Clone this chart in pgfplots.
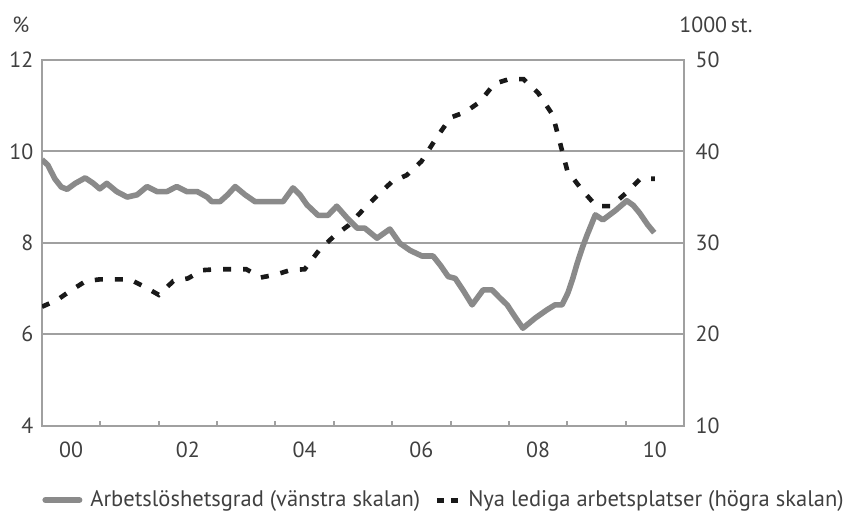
\documentclass[border=0pt]{standalone}
\usepackage{pgfplots}
\pgfplotsset{compat=1.18}
\usepackage{fontspec}
\setmainfont{PT Sans}
\definecolor{ugray}{RGB}{138,138,138}
\definecolor{agray}{RGB}{160,160,160}
\definecolor{tgray}{RGB}{64,64,64}
\definecolor{vblack}{RGB}{25,25,25}

\pgfplotstableread{
x y
2000.00 9.82
2000.10 9.70
2000.22 9.40
2000.33 9.22
2000.43 9.17
2000.57 9.30
2000.74 9.42
2000.88 9.30
2000.99 9.18
2001.11 9.30
2001.28 9.12
2001.46 9.00
2001.63 9.05
2001.80 9.23
2001.97 9.12
2002.14 9.12
2002.31 9.23
2002.48 9.12
2002.66 9.12
2002.83 9.00
2002.91 8.90
2003.05 8.90
2003.18 9.05
2003.31 9.23
2003.48 9.05
2003.65 8.90
2003.90 8.90
2004.13 8.90
2004.30 9.20
2004.42 9.05
2004.54 8.83
2004.73 8.60
2004.90 8.60
2005.05 8.80
2005.23 8.54
2005.40 8.32
2005.53 8.32
2005.74 8.10
2005.96 8.30
2006.13 7.99
2006.31 7.83
2006.51 7.71
2006.70 7.71
2006.83 7.50
2006.96 7.26
2007.08 7.22
2007.22 6.95
2007.37 6.64
2007.56 6.97
2007.71 6.97
2007.84 6.80
2007.97 6.64
2008.12 6.35
2008.24 6.13
2008.45 6.35
2008.65 6.53
2008.79 6.64
2008.91 6.64
2009.01 6.90
2009.09 7.20
2009.17 7.55
2009.26 7.90
2009.34 8.17
2009.48 8.61
2009.61 8.50
2009.82 8.70
2010.02 8.92
2010.13 8.82
2010.24 8.65
2010.38 8.39
2010.49 8.22
}\unemp

\pgfplotstableread{
x y
2000.00 23.0
2000.25 23.7
2000.50 24.8
2000.75 25.8
2001.00 26.0
2001.25 26.0
2001.50 26.0
2001.75 25.2
2002.00 24.3
2002.25 25.8
2002.50 26.1
2002.75 27.0
2003.00 27.1
2003.25 27.1
2003.50 27.1
2003.75 26.2
2004.00 26.5
2004.25 27.0
2004.50 27.1
2004.75 29.2
2005.00 30.7
2005.25 31.9
2005.50 33.6
2005.75 35.2
2006.00 36.7
2006.25 37.4
2006.50 38.9
2006.75 41.4
2007.00 43.7
2007.25 44.3
2007.50 45.4
2007.75 47.4
2008.00 47.9
2008.25 47.9
2008.50 46.4
2008.75 44.0
2009.00 37.9
2009.25 35.8
2009.50 34.0
2009.75 34.0
2010.00 35.4
2010.25 37.0
2010.50 37.0
}\vac

\begin{document}
\begin{tikzpicture}[x=1bp,y=1bp]
\useasboundingbox (-21,-43.25) rectangle (405.5,212.75);
\pgfplotsset{
  common/.style={
    at={(0,0)}, anchor=south west,
    width=321bp, height=182.75bp, scale only axis,
    xmin=2000, xmax=2011,
    axis line style={agray, line width=1bp},
    major tick length=0pt,
    tick style={agray, line width=1bp},
    ticklabel style={font=\fontsize{11}{13}\selectfont, text=tgray},
    /pgf/number format/assume math mode=true,
  }
}
\begin{axis}[
  common,
  ymin=4, ymax=12, ytick={4,6,...,12},
  ymajorgrids, grid style={agray, line width=1bp},
  xtick={2000.5,2002.5,...,2010.5}, xticklabels={00,02,04,06,08,10},
  minor xtick={2001,...,2010}, minor tick length=2.5bp,
  tick align=inside, xtick pos=bottom, ytick pos=left,
  xticklabel style={yshift=-4.5bp},
  yticklabel style={xshift=-0.8bp},
  legend columns=2,
  legend style={at={(axis description cs:0,0)}, anchor=west, yshift=-37.25bp,
    draw=none, fill=none, inner sep=0pt, font=\fontsize{11.3}{13}\selectfont,
    text=tgray,
    /tikz/every odd column/.append style={column sep=2bp},
    /tikz/every even column/.append style={column sep=5bp}},
]
\addplot[ugray, line width=2.8bp, line join=round,
  legend image code/.code={\draw[ugray, line width=3bp, line cap=round] (0bp,0bp) -- (17bp,0bp);}]
  table[x=x,y=y] {\unemp};
\addlegendentry{Arbetslöshetsgrad (vänstra skalan)}
\addlegendimage{legend image code/.code={\draw[vblack, line width=2.5bp, dash pattern=on 3.5bp off 3.5bp] (0bp,0bp) -- (10.5bp,0bp);}}
\addlegendentry{Nya lediga arbetsplatser (högra skalan)}
\end{axis}
\begin{axis}[
  common,
  ymin=10, ymax=50, ytick={10,20,...,50},
  axis x line=none, axis y line*=right,
  yticklabel style={xshift=2.3bp},
]
\addplot[vblack, line width=2.3bp, dash pattern=on 4bp off 6bp] table[x=x,y=y] {\vac};
\end{axis}
\node[anchor=west, inner sep=0pt, text=tgray, font=\fontsize{11}{13}\selectfont] at (-15,200.25) {\%};
\node[anchor=west, inner sep=0pt, text=tgray, font=\fontsize{11}{13}\selectfont] at (318.5,200.25) {1000\,st.};
\end{tikzpicture}
\end{document}
